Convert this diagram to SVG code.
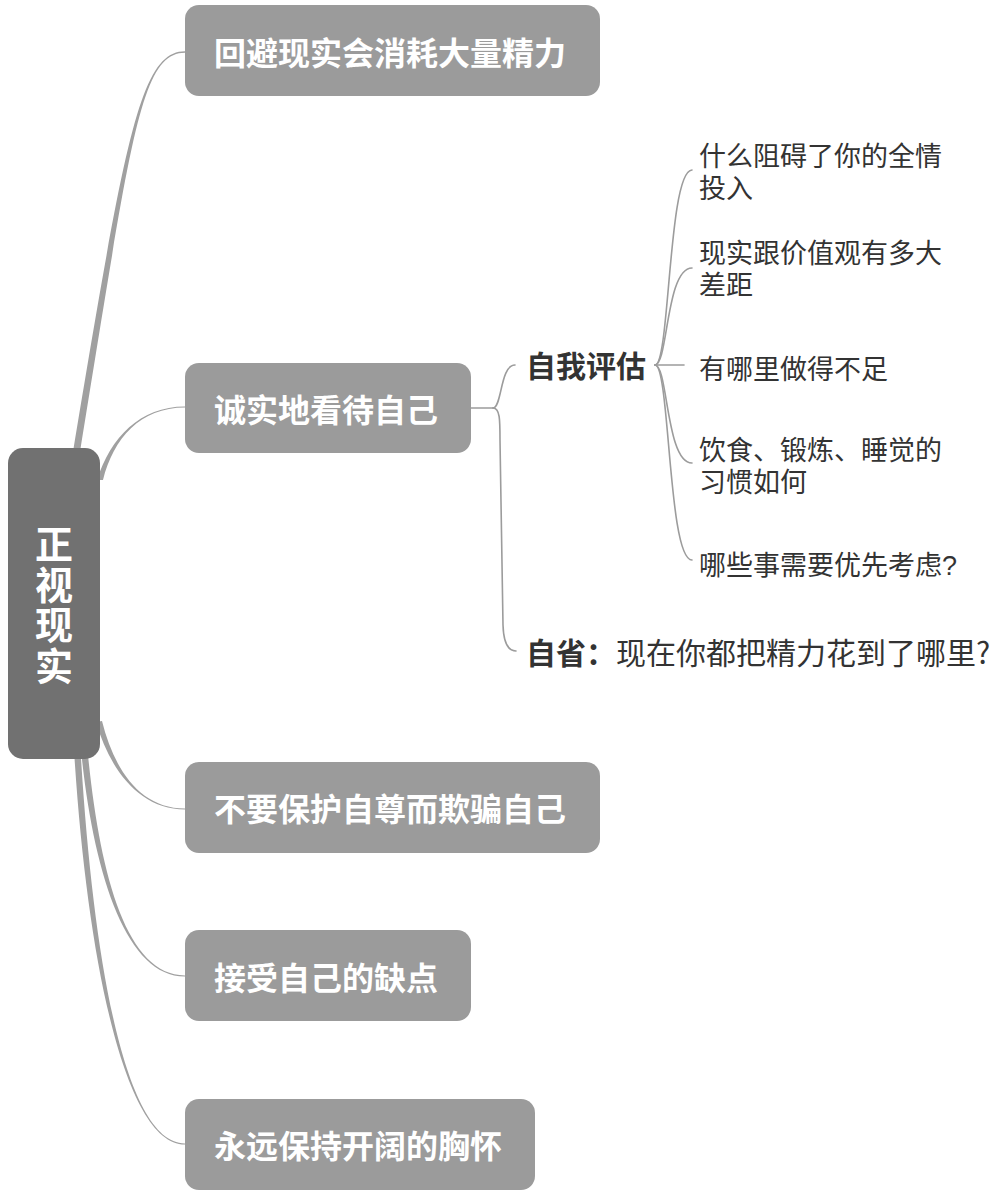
<svg xmlns="http://www.w3.org/2000/svg" width="992" height="1196" viewBox="0 0 992 1196">
<style>
.main{fill:#a0a0a0;stroke:none}
.thin{fill:none;stroke:#9c9c9c;stroke-width:1.6;stroke-linecap:round}
.box{fill:#9b9b9b}
.root{fill:#717171}
.bt{font-family:"Noto Sans CJK SC","Noto Sans",sans-serif;font-weight:bold;font-size:32px;fill:#ffffff;dominant-baseline:central}
.rt{font-family:"Noto Sans CJK SC","Noto Sans",sans-serif;font-weight:bold;font-size:38px;fill:#ffffff;writing-mode:vertical-rl;text-anchor:middle;letter-spacing:2.7px}
.st{font-family:"Noto Sans CJK SC","Noto Sans",sans-serif;font-weight:bold;font-size:30px;fill:#333333;dominant-baseline:central}
.ct{font-family:"Liberation Sans","Noto Sans CJK SC",sans-serif;font-size:27px;fill:#333333;dominant-baseline:central}
.n{font-weight:normal}
</style>
<rect width="992" height="1196" fill="#ffffff"/>
<g id="connectors">
<path class="main" d="M72.5 455 C125 139.5 140 51.3 185 51.3 L185 52.7 C140 52.7 131 140.5 79.5 455 Z"/>
<path class="main" d="M97 480 C110.6 437.5 140 406.5 185 406.5 L185 407.5 C140 407.5 113.4 438.5 103 480 Z"/>
<path class="main" d="M96 722 C110.1 770.6 140 809.5 185 809.5 L185 808.5 C140 808.5 113.9 769.4 102 721 Z"/>
<path class="main" d="M81 750 C93 870.3 125 976.6 185 976.6 L185 975.4 C125 975.4 99 869.7 87.5 750 Z"/>
<path class="main" d="M74 750 C87 960.2 125 1144.6 185 1144.6 L185 1143.4 C125 1143.4 93 959.8 80.5 750 Z"/>
<path class="thin" d="M470 408 L493 408"/>
<path class="thin" d="M493 408 C502 408 500 365 515 365"/>
<path class="thin" d="M493 408 C500 408 500 420 500 440 L503 625 C503.5 642 507 651 516 651"/>
<path class="thin" d="M655 365 C670 365 668 171 692 170"/>
<path class="thin" d="M655 365 C668 365 666 268 692 268"/>
<path class="thin" d="M655 365 L684 365"/>
<path class="thin" d="M655 365 C668 365 666 463 692 463"/>
<path class="thin" d="M655 365 C670 365 668 560 692 560"/>
</g>
<g id="root">
<rect class="root" x="8" y="448" width="92" height="311" rx="15"/>
<text class="rt" x="54" y="606">正视现实</text>
</g>
<g id="n1">
<rect class="box" x="185" y="5" width="415" height="91" rx="14"/>
<text class="bt" x="214" y="51">回避现实会消耗大量精力</text>
</g>
<g id="n2">
<rect class="box" x="185" y="363" width="286" height="90" rx="14"/>
<text class="bt" x="214" y="408">诚实地看待自己</text>
</g>
<g id="n2a">
<text class="st" x="526" y="364">自我评估</text>
</g>
<g id="n2a1">
<text class="ct" x="699" y="157">什么阻碍了你的全情<tspan x="699" dy="31.5">投入</tspan></text>
</g>
<g id="n2a2">
<text class="ct" x="699" y="254">现实跟价值观有多大<tspan x="699" dy="31.5">差距</tspan></text>
</g>
<g id="n2a3">
<text class="ct" x="699" y="370">有哪里做得不足</text>
</g>
<g id="n2a4">
<text class="ct" x="699" y="451">饮食、锻炼、睡觉的<tspan x="699" dy="31.5">习惯如何</tspan></text>
</g>
<g id="n2a5">
<text class="ct" x="699" y="566">哪些事需要优先考虑?</text>
</g>
<g id="n2b">
<text class="st" x="526" y="651">自省：<tspan class="n">现在你都把精力花到了哪里?</tspan></text>
</g>
<g id="n3">
<rect class="box" x="185" y="762" width="415" height="91" rx="14"/>
<text class="bt" x="214" y="807">不要保护自尊而欺骗自己</text>
</g>
<g id="n4">
<rect class="box" x="185" y="930" width="286" height="91" rx="14"/>
<text class="bt" x="214" y="976">接受自己的缺点</text>
</g>
<g id="n5">
<rect class="box" x="185" y="1099" width="350" height="91" rx="14"/>
<text class="bt" x="214" y="1144">永远保持开阔的胸怀</text>
</g>
</svg>
